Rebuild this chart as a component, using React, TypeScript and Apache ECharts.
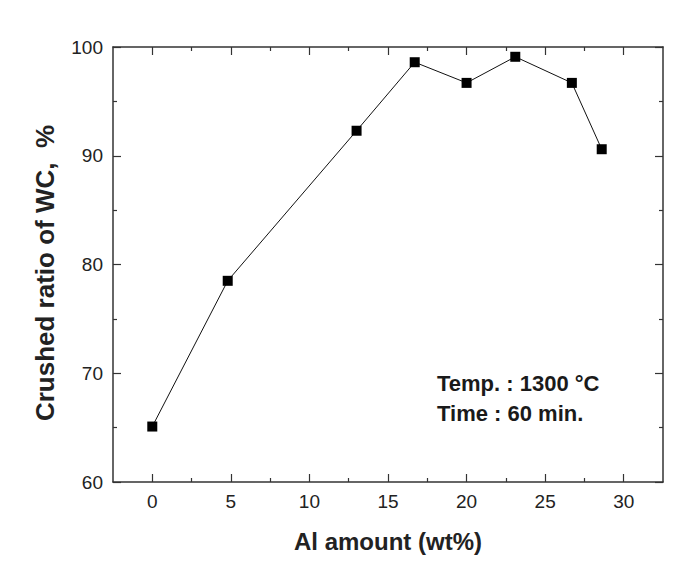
import React, { useEffect, useRef } from "react";
import * as echarts from "echarts";

const alAmount = [0, 4.8, 13.0, 16.7, 20.0, 23.1, 26.7, 28.6];
const crushedRatio = [65.1, 78.5, 92.3, 98.6, 96.7, 99.1, 96.7, 90.6];
const xMajorTicks = [0, 5, 10, 15, 20, 25, 30];
const xMinorTicks = [2.5, 7.5, 12.5, 17.5, 22.5, 27.5];
const annotationLines = ["Temp. : 1300 \u00B0C", "Time : 60 min."];
const yTitle = "Crushed ratio of WC,  %";
const xTitle = "Al amount (wt%)";

const X_MIN = -2.5;
const X_MAX = 32.5;
const Y_MIN = 60;
const Y_MAX = 100;

const FONT = "'Liberation Sans', Arial, sans-serif";
const AXIS_COLOR = "#333";

export default function App() {
  const ref = useRef<HTMLDivElement>(null);
  useEffect(() => {
    if (!ref.current) return;
    const chart = echarts.init(ref.current, undefined, { renderer: "svg" });
    const lineStyle = { color: AXIS_COLOR, width: 1.5 };
    const xBase = (position: string, ticks: number[], len: number, labels: boolean, line: boolean) => ({
      type: "value",
      position,
      min: X_MIN,
      max: X_MAX,
      axisLine: { show: line, onZero: false, lineStyle },
      axisTick: { show: true, inside: true, length: len, customValues: ticks, lineStyle: { color: AXIS_COLOR, width: 1.2 } },
      axisLabel: labels
        ? { show: true, customValues: xMajorTicks, margin: 10, fontSize: 19, color: "#222", fontFamily: FONT }
        : { show: false },
      splitLine: { show: false },
    });
    const yBase = (position: string, labels: boolean) => ({
      type: "value",
      position,
      min: Y_MIN,
      max: Y_MAX,
      interval: 10,
      axisLine: { show: true, onZero: false, lineStyle },
      axisTick: { show: true, inside: true, length: 8, lineStyle: { color: AXIS_COLOR, width: 1.2 } },
      minorTick: { show: true, splitNumber: 2, length: 4, lineStyle: { color: AXIS_COLOR, width: 1.2 } },
      axisLabel: labels
        ? { show: true, margin: 10, fontSize: 19, color: "#222", fontFamily: FONT }
        : { show: false },
      splitLine: { show: false },
    });
    const xMain: any = xBase("bottom", xMajorTicks, 8, true, true);
    xMain.name = xTitle;
    xMain.nameLocation = "middle";
    xMain.nameGap = 47;
    xMain.nameTextStyle = { fontSize: 24, fontWeight: "bold", color: "#222", fontFamily: FONT };

    chart.setOption({
      animation: false,
      backgroundColor: "#fff",
      grid: { left: 113, top: 47, right: 17, bottom: 92, containLabel: false },
      xAxis: [
        xMain,
        xBase("bottom", xMinorTicks, 4, false, false),
        xBase("top", xMajorTicks, 8, false, true),
        xBase("top", xMinorTicks, 4, false, false),
      ],
      yAxis: [yBase("left", true), yBase("right", false)],
      graphic: [
        {
          type: "text",
          x: 45,
          y: 273,
          rotation: Math.PI / 2,
          style: {
            text: yTitle,
            fontSize: 26,
            fontWeight: "bold",
            fill: "#222",
            fontFamily: FONT,
            align: "center",
            verticalAlign: "middle",
          },
        },
        ...annotationLines.map((t, i) => ({
          type: "text",
          left: 437,
          top: 372 + i * 30,
          style: { text: t, fontSize: 22, fontWeight: "bold", fill: "#1a1a1a", fontFamily: FONT },
        })),
      ],
      series: [
        {
          type: "line",
          xAxisIndex: 0,
          yAxisIndex: 0,
          data: alAmount.map((x, i) => [x, crushedRatio[i]]),
          symbol: "rect",
          symbolSize: 10,
          itemStyle: { color: "#000" },
          lineStyle: { color: "#111", width: 1 },
        },
      ],
    });
    return () => chart.dispose();
  }, []);
  return <div ref={ref} style={{ position: "absolute", left: 0, top: 0, width: 680, height: 574 }} />;
}
